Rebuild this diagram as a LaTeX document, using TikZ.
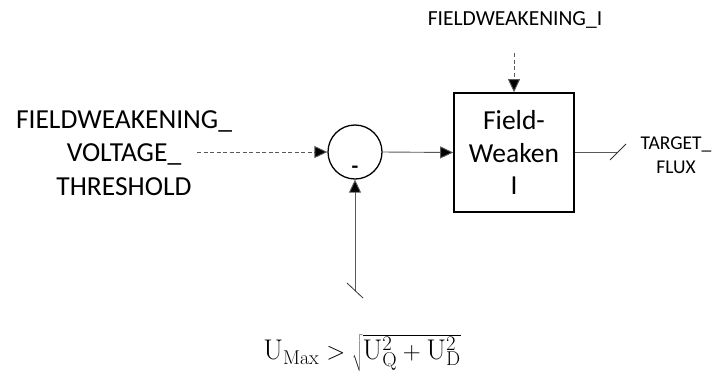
\documentclass[tikz,border=0pt]{standalone}
\usepackage{fontspec}
\setmainfont{Carlito}
\setmathrm{Latin Modern Roman}
\usetikzlibrary{arrows.meta}
\begin{document}
\begin{tikzpicture}[x=1pt,y=-1pt,
  conn/.style={draw=black!65, line width=0.9pt},
  tip/.style={-{Triangle[length=13pt,width=12pt,fill=black]}},
  dsh/.style={dash pattern=on 4pt off 2.5pt},
  blk/.style={draw, line width=1.6pt, minimum width=120pt, minimum height=119pt, inner sep=0pt, align=center, font=\fontsize{27.5}{32.5}\selectfont},
  sumc/.style={draw, circle, line width=1.3pt, minimum size=54pt, inner sep=0pt},
  lbl/.style={align=center, inner sep=0pt}]
\useasboundingbox (0,0) rectangle (717,381);
\node[sumc] (sum) at (355,152) {};
\node[font=\fontsize{22}{22}\selectfont\bfseries, inner sep=0pt] (minus) at (355,170) {-};
\node[blk] (fw) at (514,152.5) {Field-\\Weaken\\I};
\node[lbl, font=\fontsize{27.5}{33.5}\selectfont] (thr) at (124,153) {FIELDWEAKENING\_\\VOLTAGE\_\\THRESHOLD};
\node[lbl, font=\fontsize{21.5}{24}\selectfont] (fwi) at (515,20) {FIELDWEAKENING\_I};
\node[lbl, font=\fontsize{19.5}{24}\selectfont] (tf) at (676,155) {TARGET\_\\FLUX};
\node[lbl, font=\fontsize{28.5}{30}\selectfont] (eq) at (362,353) {$\mathrm{U}_{\mathrm{Max}} > \sqrt{\mathrm{U}_{\mathrm{Q}}^{2}+\mathrm{U}_{\mathrm{D}}^{2}}$};
\coordinate (a) at (197,152);
\coordinate (b) at (514,53);
\coordinate (c) at (618,152);
\coordinate (d) at (355,291);
\draw[conn, dsh, tip] (a) -- (sum.west);
\draw[conn, dsh, tip] (b) -- (fw.north);
\draw[conn, tip] (sum.east) -- (fw.west);
\draw[conn, tip] (d) -- (sum.south);
\draw[conn] (fw.east |- c) -- (c);
\draw[line width=0.8pt, black!80] (610,160) -- (626,144);
\draw[line width=0.8pt, black!80] (347,283) -- (363,298);
\end{tikzpicture}
\end{document}
